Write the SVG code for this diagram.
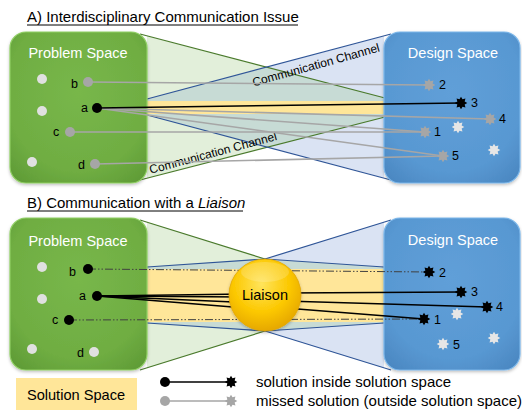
<svg xmlns="http://www.w3.org/2000/svg" width="522" height="410" viewBox="0 0 522 410">
<style>
text{font-family:"Liberation Sans",Arial,sans-serif;}
.title{font-size:15px;fill:#000;}
.boxlbl{font-size:14.5px;fill:#fff;text-anchor:middle;}
.lbl{font-size:12.5px;fill:#000;}
.chan{font-size:12px;fill:#000;text-anchor:middle;}
.leg{font-size:15px;fill:#000;}
.gfun{fill:#e2efda;}
.bfun{fill:#dae3f3;}
.teal{fill:#c7dbd5;}
.gedge{stroke:#4a7a2c;stroke-width:1.2;fill:none;}
.bedge{stroke:#2f5597;stroke-width:1.2;fill:none;}
.sol{fill:#ffe699;}
.gray{stroke:#a6a6a6;stroke-width:1.6;fill:none;}
.blk{stroke:#000;stroke-width:1.5;fill:none;}
.dd{stroke:#404040;stroke-width:1;fill:none;stroke-dasharray:8 2 1.5 2 1.5 2;}
.wdot{fill:#e0e0e0;}
.gdot{fill:#a6a6a6;}
.bdot{fill:#000;}
.gbox{fill:url(#gbox);stroke:#8fcf63;stroke-width:1.2;filter:url(#shadow);}
.bbox{fill:url(#bbox);stroke:#7ab6ea;stroke-width:1.2;filter:url(#shadow);}
</style>
<defs>
<filter id="shadow" x="-10%" y="-10%" width="120%" height="125%">
<feDropShadow dx="0" dy="1.5" stdDeviation="1.5" flood-color="#000" flood-opacity="0.25"/>
</filter>
<radialGradient id="gbox" cx="0.5" cy="0.4" r="0.75">
<stop offset="0" stop-color="#78b74a"/><stop offset="0.7" stop-color="#6fad42"/><stop offset="1" stop-color="#5e9a35"/>
</radialGradient>
<radialGradient id="bbox" cx="0.5" cy="0.4" r="0.75">
<stop offset="0" stop-color="#609fd8"/><stop offset="0.7" stop-color="#5898d2"/><stop offset="1" stop-color="#4a86c0"/>
</radialGradient>
<radialGradient id="liaison" cx="0.45" cy="0.35" r="0.65">
<stop offset="0" stop-color="#ffe45c"/><stop offset="0.6" stop-color="#fcc800"/><stop offset="1" stop-color="#e6a800"/>
</radialGradient>
<polygon id="star" points="0,-6.3 1.5,-3.65 4.45,-4.45 3.65,-1.5 6.3,0 3.65,1.5 4.45,4.45 1.5,3.65 0,6.3 -1.5,3.65 -4.45,4.45 -3.65,1.5 -6.3,0 -3.65,-1.5 -4.45,-4.45 -1.5,-3.65"/>
<clipPath id="clipBlueA"><polygon points="384,36 147,99 147,115 384,178"/></clipPath>
</defs>

<!-- ===== Panel A ===== -->
<g id="title-a">
<text class="title" x="27" y="22">A) Interdisciplinary Communication Issue</text>
<line x1="27" y1="25" x2="298" y2="25" stroke="#000" stroke-width="1"/>
</g>

<g id="channels-a">
<polygon class="gfun" points="147,36 385,98 385,117 147,178"/>
<polygon class="bfun" points="384,36 147,99 147,115 384,178"/>
<polygon class="teal" points="147,36 385,98 385,117 147,178" clip-path="url(#clipBlueA)"/>
<rect class="sol" x="147" y="101" width="237" height="13"/>
<polyline class="gedge" points="140,34 385,98"/>
<polyline class="gedge" points="140,180 385,117"/>
<polyline class="bedge" points="391,34 147,99"/>
<polyline class="bedge" points="391,180 147,115"/>
<text class="chan" x="316" y="69" transform="rotate(-15.5 316 65)">Communication Channel</text>
<text class="chan" x="213" y="157" transform="rotate(-15 213 153)">Communication Channel</text>
</g>

<g id="problem-space-a">
<rect class="gbox" x="10" y="32" width="137" height="151" rx="16"/>
<text class="boxlbl" x="78" y="58">Problem Space</text>
</g>
<g id="design-space-a">
<rect class="bbox" x="384" y="32" width="136" height="151" rx="16"/>
<text class="boxlbl" x="453" y="58">Design Space</text>
</g>

<g id="connectors-a">
<line class="gray" x1="88" y1="82" x2="429" y2="85"/>
<line class="gray" x1="97" y1="108" x2="490" y2="119"/>
<line class="gray" x1="97" y1="108" x2="425" y2="132"/>
<line class="gray" x1="97" y1="108" x2="443" y2="156"/>
<line class="gray" x1="70" y1="132" x2="425" y2="132"/>
<line class="gray" x1="95" y1="164" x2="443" y2="156"/>
<line class="blk" x1="97" y1="108" x2="461" y2="103"/>
</g>

<g id="problems-a">
<circle class="wdot" cx="42" cy="79" r="5"/>
<circle class="wdot" cx="42" cy="111" r="5"/>
<circle class="wdot" cx="32" cy="162" r="5"/>
<g id="pa-b"><circle class="gdot" cx="88" cy="82" r="5"/><text class="lbl" x="71" y="88">b</text></g>
<g id="pa-a"><circle class="bdot" cx="97" cy="108" r="5"/><text class="lbl" x="81" y="112">a</text></g>
<g id="pa-c"><circle class="gdot" cx="70" cy="132" r="5"/><text class="lbl" x="53" y="136">c</text></g>
<g id="pa-d"><circle class="gdot" cx="95" cy="164" r="5"/><text class="lbl" x="78" y="169">d</text></g>
</g>

<g id="solutions-a">
<g id="sa-2"><use href="#star" x="429" y="85" fill="#a6a6a6"/><text class="lbl" x="439" y="89">2</text></g>
<g id="sa-3"><use href="#star" x="461" y="103" fill="#000"/><text class="lbl" x="471" y="107">3</text></g>
<g id="sa-4"><use href="#star" x="490" y="119" fill="#a6a6a6"/><text class="lbl" x="499" y="123">4</text></g>
<g id="sa-1"><use href="#star" x="425" y="132" fill="#a6a6a6"/><text class="lbl" x="434" y="136">1</text></g>
<g id="sa-5"><use href="#star" x="443" y="156" fill="#a6a6a6"/><text class="lbl" x="452" y="160">5</text></g>
<use href="#star" x="458" y="127" fill="#e6e6e6"/>
<use href="#star" x="494" y="150" fill="#e6e6e6"/>
</g>

<!-- ===== Panel B ===== -->
<g id="title-b">
<text class="title" x="27" y="208">B) Communication with a <tspan font-style="italic">Liaison</tspan></text>
<line x1="27" y1="211" x2="243" y2="211" stroke="#000" stroke-width="1"/>
</g>

<g id="channels-b">
<polygon class="gfun" points="147,222 265,259 265,331 147,368"/>
<polygon class="bfun" points="384,222 265,259 265,331 384,368"/>
<polygon class="teal" points="147,267 265,259 384,267 384,323 265,331 147,323"/>
<rect class="sol" x="147" y="269" width="237" height="53"/>
<polyline class="gedge" points="140,220 265,259"/>
<polyline class="gedge" points="140,370 265,331"/>
<polyline class="bedge" points="391,220 265,259"/>
<polyline class="bedge" points="391,370 265,331"/>
<polyline class="bedge" points="147,267 265,259 384,267"/>
<polyline class="bedge" points="147,323 265,331 384,323"/>
</g>

<g id="problem-space-b">
<rect class="gbox" x="10" y="218" width="137" height="152" rx="16"/>
<text class="boxlbl" x="78" y="246">Problem Space</text>
</g>
<g id="design-space-b">
<rect class="bbox" x="384" y="218" width="136" height="152" rx="16"/>
<text class="boxlbl" x="453" y="245">Design Space</text>
</g>

<g id="connectors-b">
<line class="dd" x1="88" y1="269" x2="429" y2="272"/>
<line class="dd" x1="69" y1="320" x2="424" y2="319"/>
<line class="blk" x1="97" y1="296" x2="245" y2="294"/>
<line class="blk" x1="97" y1="296" x2="245" y2="297"/>
<line class="blk" x1="97" y1="296" x2="245" y2="302.5"/>
<line class="blk" x1="97" y1="296" x2="245" y2="308"/>
<line class="blk" x1="285" y1="293" x2="461" y2="292"/>
<line class="blk" x1="285" y1="301" x2="487" y2="307"/>
<line class="blk" x1="285" y1="308" x2="424" y2="319"/>
</g>

<g id="liaison">
<circle cx="265" cy="295" r="36" fill="url(#liaison)" stroke="#e3a700" stroke-width="0.8" filter="url(#shadow)"/>
<ellipse cx="265" cy="272" rx="24" ry="10" fill="#fff" opacity="0.18"/>
<text x="265" y="300" font-size="14.5px" text-anchor="middle" fill="#000">Liaison</text>
</g>

<g id="problems-b">
<circle class="wdot" cx="42" cy="267" r="5"/>
<circle class="wdot" cx="42" cy="299" r="5"/>
<circle class="wdot" cx="32" cy="349" r="5"/>
<g id="pb-b"><circle class="bdot" cx="88" cy="269" r="5"/><text class="lbl" x="69" y="276">b</text></g>
<g id="pb-a"><circle class="bdot" cx="97" cy="296" r="5"/><text class="lbl" x="79" y="300">a</text></g>
<g id="pb-c"><circle class="bdot" cx="69" cy="320" r="5"/><text class="lbl" x="52" y="324">c</text></g>
<g id="pb-d"><circle class="wdot" cx="94" cy="352" r="5"/><text class="lbl" x="77" y="357">d</text></g>
</g>

<g id="solutions-b">
<g id="sb-2"><use href="#star" x="429" y="272" fill="#000"/><text class="lbl" x="439" y="277">2</text></g>
<g id="sb-3"><use href="#star" x="461" y="292" fill="#000"/><text class="lbl" x="471" y="296">3</text></g>
<g id="sb-4"><use href="#star" x="487" y="307" fill="#000"/><text class="lbl" x="496" y="311">4</text></g>
<g id="sb-1"><use href="#star" x="424" y="319" fill="#000"/><text class="lbl" x="434" y="324">1</text></g>
<g id="sb-5"><use href="#star" x="443" y="344" fill="#e6e6e6"/><text class="lbl" x="453" y="349">5</text></g>
<use href="#star" x="457" y="314" fill="#e6e6e6"/>
<use href="#star" x="494" y="338" fill="#e6e6e6"/>
</g>

<!-- ===== Legend ===== -->
<g id="legend-solution-space">
<rect class="sol" x="16" y="378" width="121" height="32"/>
<text x="76" y="400" font-size="14.6px" text-anchor="middle" fill="#000">Solution Space</text>
</g>
<g id="legend-inside">
<line class="blk" x1="165" y1="382" x2="231" y2="382"/>
<circle class="bdot" cx="165" cy="382" r="5"/>
<use href="#star" x="231" y="382" fill="#000"/>
<text class="leg" x="256" y="387">solution inside solution space</text>
</g>
<g id="legend-missed">
<line class="gray" x1="165" y1="401" x2="231" y2="401"/>
<circle class="gdot" cx="165" cy="401" r="5"/>
<use href="#star" x="231" y="401" fill="#a6a6a6"/>
<text class="leg" x="256" y="406">missed solution (outside solution space)</text>
</g>
</svg>
